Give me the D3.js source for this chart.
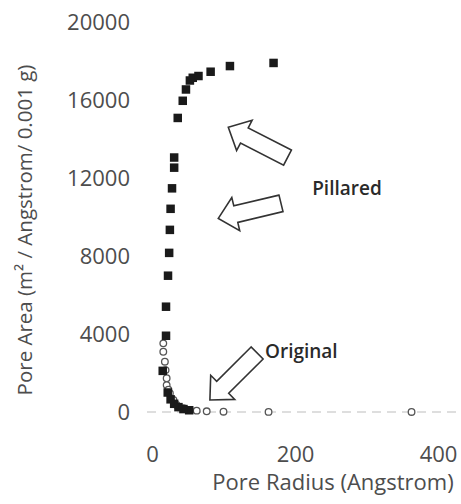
<!DOCTYPE html>
<html>
<head>
<meta charset="utf-8">
<script src="https://cdn.jsdelivr.net/npm/d3@7"></script>
<style>
  body { margin: 0; background: #fff; }
  text { font-family: "Open Sans", "Liberation Sans", sans-serif; }
</style>
</head>
<body>
<svg id="chart" width="461" height="504"></svg>
<script>
// Pillared sample (filled squares)
var pillaredRadius = [52, 44, 37, 31, 26, 22, 15, 19.6, 19.6, 22.4, 24, 25, 26, 28, 31, 31, 36, 43, 47.5, 53, 57, 65, 82, 109, 170];
var pillaredArea = [90, 150, 250, 420, 650, 1000, 2110, 3910, 5400, 6990, 8160, 9340, 10420, 11470, 12530, 13050, 15080, 15960, 16540, 17000, 17140, 17230, 17450, 17740, 17900];

// Original sample (open circles)
var originalRadius = [15.8, 15.8, 18, 19, 20.5, 20.5, 23, 25, 30, 34.5, 44, 53, 62.5, 76.5, 100, 163, 363];
var originalArea = [3520, 3090, 2580, 2150, 1730, 1380, 1150, 960, 615, 360, 190, 100, 70, 36, 15, 5, 2];

var xTicks = [0, 200, 400];
var yTicks = [0, 4000, 8000, 12000, 16000, 20000];

// annotation arrows, in data units (tail -> tip)
var arrowTailR = [189.5, 180.4, 147];
var arrowTailA = [13050, 10700, 3025];
var arrowTipR = [106.7, 92.7, 81];
var arrowTipA = [14600, 9930, 615];

var labelText = ["Pillared", "Original"];
var labelR = [224, 158];
var labelA = [11385, 3025];

var svg = d3.select("#chart");

var x = d3.scaleLinear().domain([0, 400]).range([152, 438]);
var y = d3.scaleLinear().domain([0, 20000]).range([412, 22]);

// zero line (dashed)
svg.append("line")
    .attr("x1", 147).attr("x2", 461)
    .attr("y1", y(0)).attr("y2", y(0))
    .attr("stroke", "#bdbdbd")
    .attr("stroke-width", 1.2)
    .attr("stroke-dasharray", "9,6");

var yAxis = svg.append("g")
    .attr("transform", "translate(147,0)")
    .call(d3.axisLeft(y).tickValues(yTicks).tickSize(0).tickPadding(17).tickFormat(d3.format("d")));
yAxis.select(".domain").remove();
yAxis.selectAll("text")
    .style("font-family", "Open Sans")
    .style("font-size", "22px")
    .attr("fill", "#4d4d4d");

var xAxis = svg.append("g")
    .attr("transform", "translate(0," + y(0) + ")")
    .call(d3.axisBottom(x).tickValues(xTicks).tickSize(0).tickPadding(34).tickFormat(d3.format("d")));
xAxis.select(".domain").remove();
xAxis.selectAll("text")
    .style("font-family", "Open Sans")
    .style("font-size", "22px")
    .attr("fill", "#4d4d4d");

// axis titles
svg.append("text")
    .attr("transform", "translate(27,230) rotate(-90)")
    .attr("text-anchor", "middle")
    .attr("dominant-baseline", "middle")
    .attr("fill", "#4d4d4d")
    .style("font-size", "20.5px")
    .text("Pore Area (m² / Angstrom/ 0.001 g)");

svg.append("text")
    .attr("x", 333).attr("y", 484)
    .attr("text-anchor", "middle")
    .attr("dominant-baseline", "middle")
    .attr("fill", "#4d4d4d")
    .style("font-size", "22px")
    .text("Pore Radius (Angstrom)");

// original series
var original = originalRadius.map(function(r, i) { return {r: r, a: originalArea[i]}; });
svg.append("g").selectAll("circle")
    .data(original)
    .enter().append("circle")
    .attr("cx", function(d) { return x(d.r); })
    .attr("cy", function(d) { return y(d.a); })
    .attr("r", 3.3)
    .attr("fill", "#fff")
    .attr("stroke", "#555")
    .attr("stroke-width", 1.3);

// pillared series
var pillared = pillaredRadius.map(function(r, i) { return {r: r, a: pillaredArea[i]}; });
svg.append("g").selectAll("rect")
    .data(pillared)
    .enter().append("rect")
    .attr("x", function(d) { return x(d.r) - 4.25; })
    .attr("y", function(d) { return y(d.a) - 4.25; })
    .attr("width", 8.5)
    .attr("height", 8.5)
    .attr("fill", "#1a1a1a");

// block arrows
function blockArrow(x0, y0, x1, y1) {
    var dx = x1 - x0, dy = y1 - y0;
    var len = Math.sqrt(dx * dx + dy * dy);
    var ux = dx / len, uy = dy / len;
    var nx = -uy, ny = ux;
    var headLen = 18, headW = 17, shaftW = 8.5;
    var bx = x1 - ux * headLen, by = y1 - uy * headLen;
    var pts = [
        [x0 + nx * shaftW, y0 + ny * shaftW],
        [bx + nx * shaftW, by + ny * shaftW],
        [bx + nx * headW, by + ny * headW],
        [x1, y1],
        [bx - nx * headW, by - ny * headW],
        [bx - nx * shaftW, by - ny * shaftW],
        [x0 - nx * shaftW, y0 - ny * shaftW]
    ];
    return "M" + pts.map(function(p) { return p[0].toFixed(1) + "," + p[1].toFixed(1); }).join("L") + "Z";
}

svg.append("g").selectAll("path")
    .data(arrowTailR)
    .enter().append("path")
    .attr("d", function(d, i) {
        return blockArrow(x(arrowTailR[i]), y(arrowTailA[i]), x(arrowTipR[i]), y(arrowTipA[i]));
    })
    .attr("fill", "#fff")
    .attr("stroke", "#333")
    .attr("stroke-width", 1.6)
    .attr("stroke-linejoin", "miter");

svg.append("g").selectAll("text")
    .data(labelText)
    .enter().append("text")
    .attr("x", function(d, i) { return x(labelR[i]); })
    .attr("y", function(d, i) { return y(labelA[i]); })
    .attr("dominant-baseline", "middle")
    .attr("fill", "#2a2a2a")
    .style("font-size", "19px")
    .style("font-weight", "600")
    .text(function(d) { return d; });
</script>
</body>
</html>
